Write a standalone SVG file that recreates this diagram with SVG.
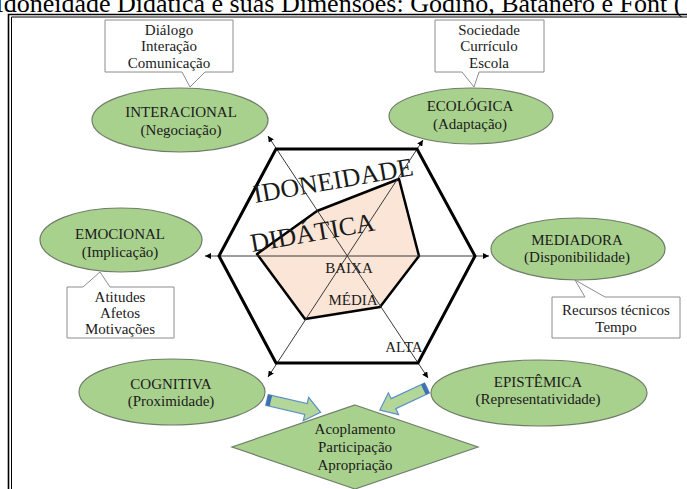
<svg xmlns="http://www.w3.org/2000/svg" width="687" height="489" viewBox="0 0 687 489">
<style>
.t{font-family:"Liberation Serif","Times New Roman",serif;font-size:15px;fill:#1a1a1a;text-anchor:middle}
.ell{fill:#a9d18e;stroke:#6f7d69;stroke-width:1.2}
.call{fill:#fff;stroke:#8c8c8c;stroke-width:1}
.hex{fill:none;stroke:#000;stroke-width:3;stroke-linejoin:miter}
.axis{stroke:#3a3a3a;stroke-width:1;fill:none;marker-start:url(#ah);marker-end:url(#ah)}
.radar{fill:#fbe5d6;stroke:#000;stroke-width:2.5;stroke-linejoin:round}
.big{font-family:"Liberation Serif","Times New Roman",serif;font-size:26px;fill:#1a1a1a}
.blk{fill:#b2d799;stroke:#5b8fc7;stroke-width:1.2}
.cap{fill:#3f70b3}
.frame{fill:none;stroke:#000}
</style>
<defs>
<marker id="ah" viewBox="0 0 8 8" refX="8" refY="4" markerWidth="6" markerHeight="6" markerUnits="userSpaceOnUse" orient="auto-start-reverse">
<path d="M0,0 L8,4 L0,8 Z" fill="#000"/>
</marker>
</defs>

<text x="-5" y="12" style="font-family:'Liberation Serif','Times New Roman',serif;font-size:26px;fill:#000">Idoneidade Didática e suas Dimensões: Godino, Batanero e Font (</text>

<g id="frame">
<path class="frame" d="M8.5,489 V14.5 H687" stroke-width="1.6"/>
<path class="frame" d="M11.5,489 V17 H687" stroke-width="1"/>
</g>

<g id="radar-chart">
<polygon class="radar" points="257,254 317,211 399,179 419,256 380,307 305,319"/>
</g>

<g id="connectors">
<line class="axis" x1="205" y1="256" x2="489" y2="256"/>
<line class="axis" x1="268" y1="136" x2="428" y2="378"/>
<line class="axis" x1="423" y1="140" x2="268" y2="377"/>
<g id="arrow-cognitiva" transform="translate(267,400) rotate(13)">
<polygon class="blk" points="0,-5.5 40,-5.5 40,-12 55,0 40,12 40,5.5 0,5.5"/>
<rect class="cap" x="0" y="-5.5" width="4" height="11"/>
</g>
<g id="arrow-epistemica" transform="translate(427,388) rotate(155)">
<polygon class="blk" points="0,-5.5 37,-5.5 37,-12 52,0 37,12 37,5.5 0,5.5"/>
<rect class="cap" x="0" y="-5.5" width="4" height="11"/>
</g>
</g>

<g id="hexagon">
<polygon class="hex" points="276,149 417,149 475,256 418,363 276,363 219,256"/>
<text class="big" transform="translate(255,203) rotate(-10)">IDONEIDADE</text>
<text class="big" transform="translate(252,252) rotate(-10)">DIDÁTICA</text>
<text class="t" x="349" y="273">BAIXA</text>
<text class="t" x="353" y="305">MÉDIA</text>
<text class="t" x="404" y="352">ALTA</text>
</g>

<g id="callout-interacional">
<path class="call" d="M105,20 H233 V72 H205 L190,87 L182,72 H105 Z"/>
<text class="t" x="169" y="35">Diálogo</text>
<text class="t" x="169" y="51">Interação</text>
<text class="t" x="169" y="68">Comunicação</text>
</g>

<g id="callout-ecologica">
<path class="call" d="M435,20 H544 V72 H479 L474,87 L462,72 H435 Z"/>
<text class="t" x="489" y="35">Sociedade</text>
<text class="t" x="489" y="51">Currículo</text>
<text class="t" x="489" y="68">Escola</text>
</g>

<g id="interacional">
<ellipse class="ell" cx="180" cy="120" rx="88" ry="32"/>
<text class="t" x="181" y="117">INTERACIONAL</text>
<text class="t" x="181" y="135">(Negociação)</text>
</g>

<g id="ecologica">
<ellipse class="ell" cx="471" cy="116" rx="82" ry="28"/>
<text class="t" x="470" y="111">ECOLÓGICA</text>
<text class="t" x="470" y="129">(Adaptação)</text>
</g>

<g id="emocional">
<ellipse class="ell" cx="121" cy="240" rx="81" ry="32"/>
<text class="t" x="120" y="239">EMOCIONAL</text>
<text class="t" x="120" y="257">(Implicação)</text>
</g>

<g id="callout-emocional">
<path class="call" d="M67,287 H83 L100,272 L110,287 H174 V338 H67 Z"/>
<text class="t" x="120" y="302">Atitudes</text>
<text class="t" x="120" y="318">Afetos</text>
<text class="t" x="120" y="334">Motivações</text>
</g>

<g id="mediadora">
<ellipse class="ell" cx="578" cy="249" rx="87" ry="31"/>
<text class="t" x="577" y="245">MEDIADORA</text>
<text class="t" x="577" y="262">(Disponibilidade)</text>
</g>

<g id="callout-mediadora">
<path class="call" d="M552,297 H585 L575,280 L605,297 H680 V338 H552 Z"/>
<text class="t" x="616" y="315">Recursos técnicos</text>
<text class="t" x="616" y="332">Tempo</text>
</g>

<g id="cognitiva">
<ellipse class="ell" cx="172" cy="392" rx="93" ry="33"/>
<text class="t" x="171" y="389">COGNITIVA</text>
<text class="t" x="171" y="406">(Proximidade)</text>
</g>

<g id="epistemica">
<ellipse class="ell" cx="539" cy="393" rx="108" ry="33"/>
<text class="t" x="538" y="387">EPISTÊMICA</text>
<text class="t" x="538" y="404">(Representatividade)</text>
</g>

<g id="acoplamento">
<polygon class="ell" points="355,405 478,447 355,489 232,447"/>
<text class="t" x="355" y="434">Acoplamento</text>
<text class="t" x="355" y="452">Participação</text>
<text class="t" x="355" y="470">Apropriação</text>
</g>
</svg>
